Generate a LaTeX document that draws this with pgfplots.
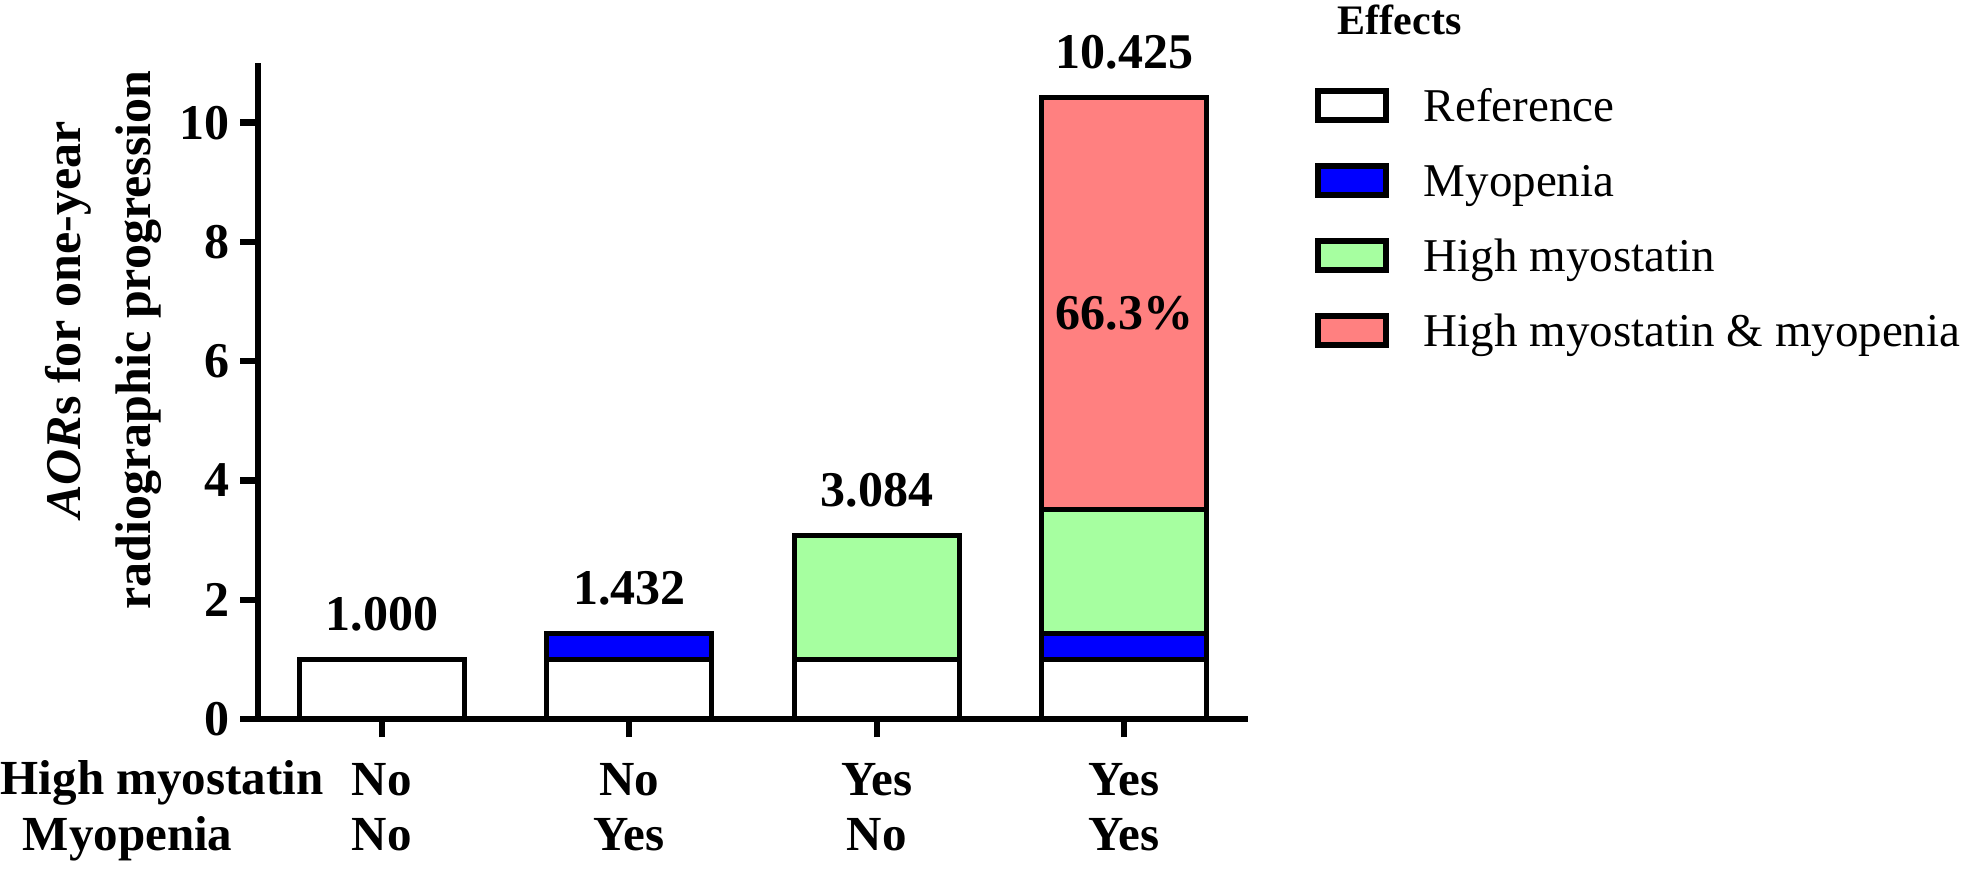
\documentclass[border=0pt]{standalone}
\usepackage{pgfplots}
\pgfplotsset{compat=1.18}
\usepackage{fontspec}
\setmainfont{Liberation Serif}
\definecolor{barblue}{RGB}{0,0,255}
\definecolor{bargreen}{RGB}{166,255,160}
\definecolor{barred}{RGB}{255,128,128}
\begin{document}
\begin{tikzpicture}
\useasboundingbox (0,0) rectangle (492.25pt,219.5pt);
\begin{axis}[
  at={(64.5pt,39.75pt)}, anchor=south west,
  scale only axis, width=247.5pt, height=164pt,
  ybar stacked, reverse stacked plots=false, bar width=0.668,
  xmin=-0.5, xmax=3.5, ymin=0, ymax=11,
  axis x line*=bottom, axis y line*=left,
  axis line style={line width=1.6pt},
  xtick={0,1,2,3}, xticklabels={No,No,Yes,Yes},
  extra x ticks={0,1,2,3}, extra x tick labels={No,Yes,No,Yes},
  extra x tick style={xticklabel style={yshift=-13.75pt}},
  ytick={0,2,4,6,8,10},
  tick align=outside, major tick length=4.5pt,
  tick style={line width=1.6pt, black},
  /pgf/number format/assume math mode=true,
  yticklabel style={font=\fontsize{12.5}{12.5}\selectfont\bfseries, inner sep=0pt, xshift=-2.5pt},
  xticklabel style={font=\fontsize{12.25}{12.25}\selectfont\bfseries, anchor=base, inner sep=0pt, yshift=-14.5pt},
  clip=false,
  every axis plot/.append style={draw=black, line width=1.25pt},
  legend style={
    at={(axis description cs:1.0677,0.9619)}, anchor=north west,
    draw=none, fill=none, inner sep=0pt, outer sep=0pt,
    row sep=10.1pt, column sep=8.8pt,
    font=\fontsize{11.75}{11.75}\selectfont,
    nodes={inner sep=0pt, text height=8pt, text depth=0pt},
  },
  legend cell align=left,
  legend image code/.code={\draw[#1, line width=1.4pt] (0pt,-3.625pt) rectangle (17pt,3.625pt);},
]
\addplot[fill=white] coordinates {(0,1) (1,1) (2,1) (3,1)};
\addplot[fill=barblue] coordinates {(0,0) (1,0.432) (2,0) (3,0.432)};
\addplot[fill=bargreen] coordinates {(0,0) (1,0) (2,2.084) (3,2.084)};
\addplot[fill=barred] coordinates {(0,0) (1,0) (2,0) (3,6.909)};
\legend{Reference, Myopenia, High myostatin, High myostatin \& myopenia}
\node[anchor=base, inner sep=0pt, yshift=7.25pt, text=black, font=\fontsize{12.5}{12.5}\selectfont\bfseries] at (axis cs:0,1) {1.000};
\node[anchor=base, inner sep=0pt, yshift=7.25pt, text=black, font=\fontsize{12.5}{12.5}\selectfont\bfseries] at (axis cs:1,1.432) {1.432};
\node[anchor=base, inner sep=0pt, yshift=7.25pt, text=black, font=\fontsize{12.5}{12.5}\selectfont\bfseries] at (axis cs:2,3.084) {3.084};
\node[anchor=base, inner sep=0pt, yshift=7.25pt, text=black, font=\fontsize{12.5}{12.5}\selectfont\bfseries] at (axis cs:3,10.425) {10.425};
\node[font=\fontsize{12.5}{12.5}\selectfont\bfseries, text=black] at (axis cs:3,6.8) {66.3\%};
\end{axis}
\node[anchor=base west, inner sep=0pt, font=\fontsize{10.5}{10.5}\selectfont\bfseries] at (334.25pt,210.75pt) {Effects};
\node[rotate=90, anchor=base, inner sep=0pt, font=\fontsize{12.5}{12.5}\selectfont\bfseries] at (20pt,139.5pt) {\textit{AOR}s for one-year};
\node[rotate=90, anchor=base, inner sep=0pt, font=\fontsize{12.5}{12.5}\selectfont\bfseries] at (37.5pt,134.5pt) {radiographic progression};
\node[anchor=base west, inner sep=0pt, font=\fontsize{12.25}{12.25}\selectfont\bfseries] at (0pt,20.75pt) {High myostatin};
\node[anchor=base west, inner sep=0pt, font=\fontsize{12.25}{12.25}\selectfont\bfseries] at (5.5pt,7pt) {Myopenia};
\end{tikzpicture}
\end{document}
